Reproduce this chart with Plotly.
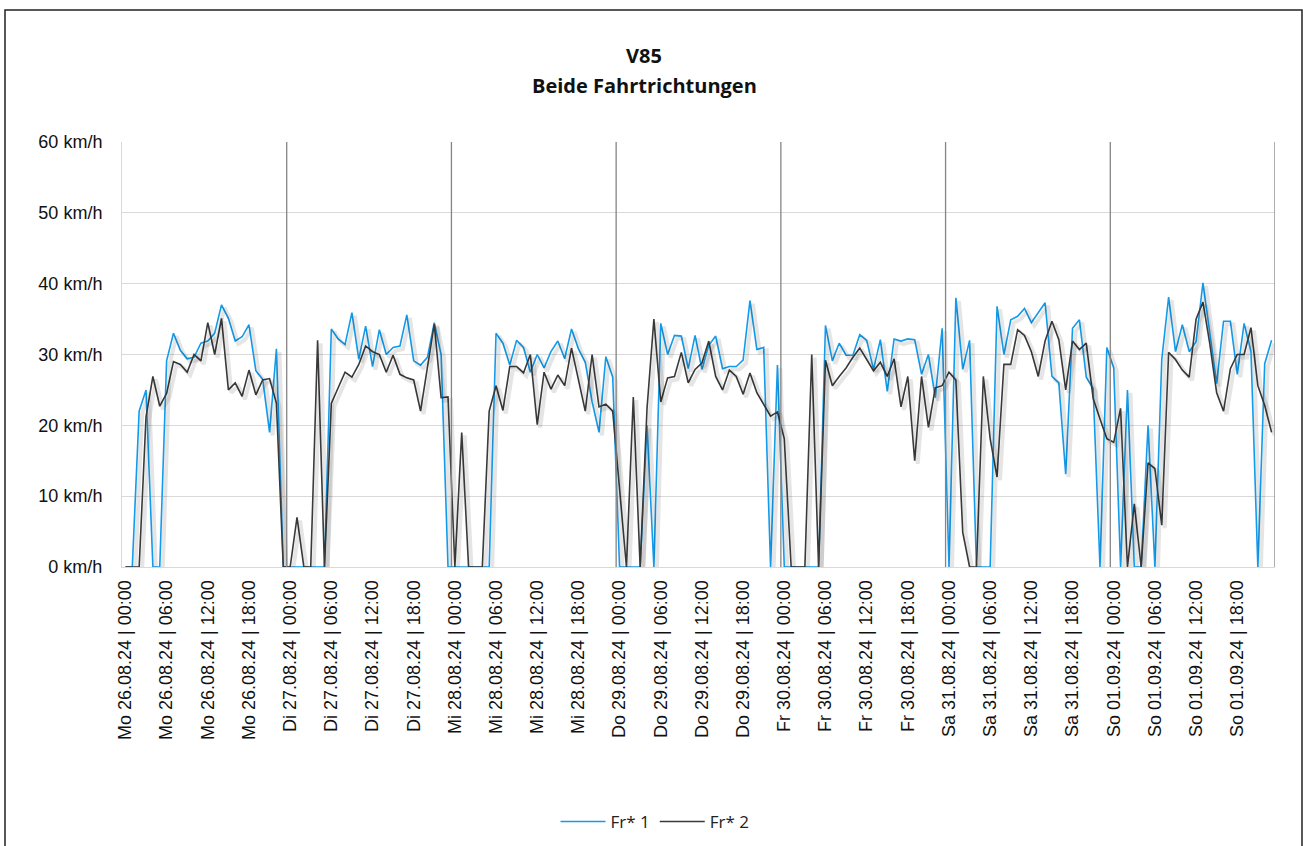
import plotly.graph_objects as go

days = ["Mo 26.08.24", "Di 27.08.24", "Mi 28.08.24", "Do 29.08.24",
        "Fr 30.08.24", "Sa 31.08.24", "So 01.09.24"]
hours_labeled = ["00:00", "06:00", "12:00", "18:00"]

fr1 = [
    # Mo
    0, 0, 22.0, 25.0, 0, 0, 29.1, 33.0, 30.6, 29.4, 29.6, 31.6,
    31.9, 33.0, 37.0, 35.1, 31.9, 32.5, 34.2, 27.7, 26.5, 19.0, 30.8, 0,
    # Di
    0, 0, 0, 0, 0, 0, 33.6, 32.2, 31.4, 35.9, 29.3, 34.0,
    28.3, 33.5, 30.0, 31.0, 31.2, 35.6, 29.1, 28.5, 29.6, 34.5, 29.9, 0,
    # Mi
    0, 0, 0, 0, 0, 0, 33.0, 31.6, 28.5, 32.0, 31.0, 27.5,
    30.0, 28.1, 30.4, 31.9, 29.4, 33.6, 30.8, 28.9, 23.3, 19.0, 29.7, 26.8,
    # Do
    0, 0, 0, 0, 20.0, 0, 34.4, 30.0, 32.7, 32.6, 28.0, 32.7,
    27.9, 31.3, 32.6, 28.0, 28.3, 28.3, 29.2, 37.6, 30.7, 31.0, 0, 28.5,
    # Fr
    0, 0, 0, 0, 0, 0, 34.1, 29.1, 31.6, 29.9, 29.9, 32.8,
    32.0, 27.9, 32.1, 24.8, 32.2, 31.9, 32.2, 32.1, 27.2, 30.0, 23.9, 33.7,
    # Sa
    0, 38.0, 27.9, 32.0, 0, 0, 0, 36.8, 30.0, 34.9, 35.4, 36.5,
    34.5, 35.9, 37.3, 26.9, 26.0, 13.1, 33.7, 34.9, 26.8, 25.2, 0, 31.0,
    # So
    28.1, 0, 25.0, 0, 0, 20.0, 0, 29.3, 38.1, 30.4, 34.2, 30.4,
    31.8, 40.1, 32.9, 25.9, 34.7, 34.7, 27.2, 34.4, 30.4, 0, 28.7, 32.0,
]

fr2 = [
    # Mo
    0, 0, 0, 21.2, 26.9, 22.7, 24.5, 29.0, 28.6, 27.5, 30.0, 29.1,
    34.5, 30.0, 35.1, 25.0, 26.0, 24.1, 27.8, 24.3, 26.4, 26.6, 23.1, 0,
    # Di
    0, 7.0, 0, 0, 32.0, 0, 23.1, 25.3, 27.5, 26.8, 28.6, 31.2,
    30.4, 30.0, 27.5, 29.9, 27.2, 26.7, 26.4, 22.0, 28.2, 34.3, 23.9, 24.0,
    # Mi
    0, 19.0, 0, 0, 0, 22.0, 25.6, 22.1, 28.3, 28.3, 27.4, 30.0,
    20.1, 27.5, 25.1, 27.1, 25.6, 30.9, 26.4, 22.0, 30.0, 22.6, 23.0, 22.0,
    # Do
    11.0, 0, 24.0, 0, 22.4, 35.0, 23.3, 26.7, 26.9, 30.3, 26.0, 27.9,
    28.8, 31.9, 26.9, 25.0, 27.8, 26.9, 24.4, 27.4, 24.6, 23.0, 21.3, 21.9,
    # Fr
    18.1, 0, 0, 0, 30.0, 0, 29.2, 25.6, 26.9, 28.1, 29.6, 30.9,
    29.3, 27.7, 28.9, 26.9, 29.4, 22.6, 26.9, 15.0, 26.9, 19.7, 25.3, 25.6,
    # Sa
    27.5, 26.4, 4.9, 0, 0, 26.9, 18.1, 12.7, 28.6, 28.6, 33.5, 32.7,
    30.4, 26.9, 31.9, 34.7, 32.1, 25.0, 31.9, 30.7, 31.6, 23.8, 20.9, 18.1,
    # So
    17.6, 22.4, 0, 8.9, 0, 14.7, 13.9, 5.9, 30.3, 29.3, 27.8, 26.8,
    35.0, 37.4, 31.5, 24.6, 22.0, 28.0, 30.0, 30.0, 33.8, 25.6, 22.8, 19.0,
]

n = len(fr1)
x = list(range(n))
tickvals = [d * 24 + k * 6 for d in range(len(days)) for k in range(4)]
ticktext = [f"{days[d]} | {hours_labeled[k]}" for d in range(len(days)) for k in range(4)]

W, H = 1303, 846
L, R, T, B = 122, 28, 142, 279
pw, ph = W - L - R, H - T - B
xr = [-0.5, n - 0.5]
yr = [0, 60]
# soft drop shadow (Excel style): same series drawn on overlaid axes shifted a few pixels
sdx = 3 * (xr[1] - xr[0]) / pw
sdy = 3 * (yr[1] - yr[0]) / ph

fig = go.Figure()
for ys in (fr1, fr2):
    fig.add_trace(go.Scatter(x=x, y=ys, mode="lines", showlegend=False, hoverinfo="skip",
                             xaxis="x2", yaxis="y2",
                             line=dict(color="rgba(0,0,0,0.10)", width=4)))
fig.add_trace(go.Scatter(x=x, y=fr1, mode="lines", name="Fr* 1",
                         line=dict(color="#139BEB", width=1.6)))
fig.add_trace(go.Scatter(x=x, y=fr2, mode="lines", name="Fr* 2",
                         line=dict(color="#3a3a3a", width=1.6)))

shapes = []
for d in range(1, len(days) + 1):
    shapes.append(dict(type="line", xref="x", yref="paper",
                       x0=d * 24 - 0.5, x1=d * 24 - 0.5, y0=0, y1=1,
                       line=dict(color="#858585", width=1.3), layer="above"))
shapes.append(dict(type="rect", xref="paper", yref="paper",
                   x0=(5 - L) / pw, x1=(1302 - L) / pw,
                   y0=(H - B - 900) / ph, y1=(H - B - 10) / ph,
                   line=dict(color="#222222", width=1.5), layer="below"))

tick_font = dict(family="Liberation Sans, Arial, sans-serif", size=18, color="#111")
title_font = dict(family="Open Sans, sans-serif", size=20, color="#111")

fig.update_layout(
    width=W, height=H,
    margin=dict(l=L, r=R, t=T, b=B, autoexpand=False),
    paper_bgcolor="white", plot_bgcolor="white",
    showlegend=True,
    legend=dict(orientation="h", x=(655 - L) / pw, xanchor="center",
                y=(H - B - 822) / ph, yanchor="middle",
                font=dict(family="Open Sans, sans-serif", size=17, color="#222"),
                itemwidth=45),
    shapes=shapes,
    annotations=[
        dict(text="<b>V85</b>", xref="paper", yref="paper", x=(644 - L) / pw,
             y=(H - B - 55) / ph, xanchor="center", yanchor="middle", showarrow=False,
             font=title_font),
        dict(text="<b>Beide Fahrtrichtungen</b>", xref="paper", yref="paper",
             x=(644 - L) / pw, y=(H - B - 85) / ph, xanchor="center", yanchor="middle",
             showarrow=False, font=title_font),
    ],
    xaxis=dict(range=xr, tickmode="array", tickvals=tickvals, ticktext=ticktext,
               tickangle=-90, showgrid=False, zeroline=False, showline=True,
               linecolor="#d9d9d9", linewidth=1, ticks="", tickfont=tick_font,
               ticklabelstandoff=5, automargin=False),
    yaxis=dict(range=yr, dtick=10, ticksuffix=" km/h", showgrid=True,
               gridcolor="#d9d9d9", gridwidth=1, zeroline=False, showline=True,
               linecolor="#d9d9d9", ticks="", tickfont=tick_font,
               ticklabelstandoff=15, automargin=False),
    xaxis2=dict(overlaying="x", range=[xr[0] - sdx, xr[1] - sdx], visible=False),
    yaxis2=dict(overlaying="y", range=[yr[0] + sdy, yr[1] + sdy], visible=False),
)

fig.write_html("out.html", config={"displayModeBar": False},
               post_script="document.body.style.margin='0';")
